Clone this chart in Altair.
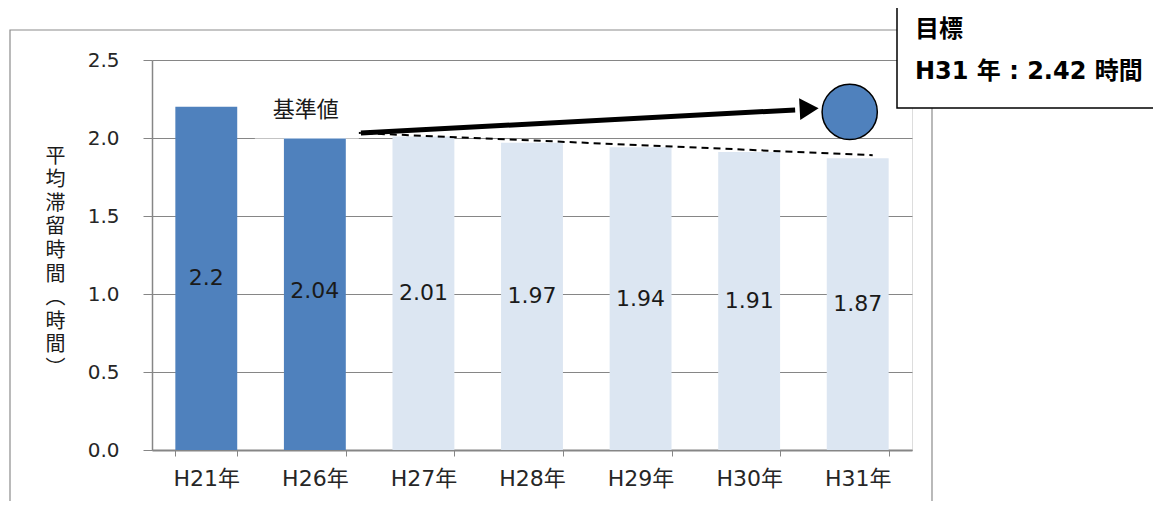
import altair as alt
import pandas as pd

# ---- data ----
years = ["H21年", "H26年", "H27年", "H28年", "H29年", "H30年", "H31年"]
values = [2.2, 2.04, 2.01, 1.97, 1.94, 1.91, 1.87]
value_labels = ["2.2", "2.04", "2.01", "1.97", "1.94", "1.91", "1.87"]
kinds = ["実績", "実績", "推計", "推計", "推計", "推計", "推計"]

trend_years = ["H26年", "H31年"]
trend_values = [2.04, 1.89]

arrow_years = ["H26年", "H30年"]
arrow_values = [2.032, 2.18]
arrow_head_year = ["H30年"]
arrow_head_value = [2.188]

target_year = ["H31年"]
target_marker = [2.167]

base_year = ["H26年"]
base_label = ["基準値"]
base_box = [1.997, 2.32]
base_label_value = [2.18]

target_lines = ["目標", "H31 年 : 2.42 時間"]
y_title = ["平", "均", "滞", "留", "時", "間", "︵", "時", "間", "︶"]

FONT = "DejaVu Sans, Noto Sans CJK JP"
CJK = "Noto Sans CJK JP"
DARK = "#4f81bd"
LIGHT = "#dce6f2"
GRID = "#868686"

bars_df = pd.DataFrame({"year": years, "value": values, "label": value_labels, "kind": kinds})
bars_df["mid"] = bars_df["value"] / 2

x_enc = alt.X("year:N", sort=years,
              scale=alt.Scale(paddingInner=0.43, paddingOuter=0.215),
              axis=alt.Axis(title=None, tickBand="extent", tickSize=6, labelPadding=12,
                            labelFontSize=22, labelColor="#262626", labelFont=FONT,
                            domainColor=GRID, domainWidth=2, tickColor=GRID, labelAngle=0))
y_scale = alt.Scale(domain=[0, 2.5], nice=False)

bars = alt.Chart(bars_df).mark_bar().encode(
    x=x_enc,
    y=alt.Y("value:Q", scale=y_scale,
            axis=alt.Axis(values=[0, 0.5, 1.0, 1.5, 2.0, 2.5], format=".1f",
                          grid=True, gridColor=GRID, tickColor=GRID, domainColor=GRID,
                          domainWidth=1.5, tickSize=9, labelPadding=24, labelFontSize=20,
                          labelColor="#262626", labelFont=FONT,
                          title=y_title, titleAngle=0, titleX=-97, titleY=86,
                          titleAlign="center", titleBaseline="top", titleLineHeight=23.6,
                          titleFontSize=20, titleFontWeight="normal", titleFont=CJK,
                          titleColor="#1a1a1a")),
    color=alt.Color("kind:N", scale=alt.Scale(domain=["実績", "推計"], range=[DARK, LIGHT]),
                    legend=None),
)

bar_text = alt.Chart(bars_df).mark_text(fontSize=22, font=FONT, color="#1a1a1a").encode(
    x=alt.X("year:N", sort=years), y=alt.Y("mid:Q", scale=y_scale), text="label:N"
)

trend = alt.Chart(pd.DataFrame({"year": trend_years, "value": trend_values})).mark_line(
    color="black", strokeDash=[7, 5], strokeWidth=2, xOffset=15
).encode(x=alt.X("year:N", sort=years), y=alt.Y("value:Q", scale=y_scale))

box = alt.Chart(pd.DataFrame({"year": base_year, "lo": [base_box[0]], "hi": [base_box[1]]})).mark_bar(
    color="white", width=104, xOffset=-8
).encode(x=alt.X("year:N", sort=years), y=alt.Y("lo:Q", scale=y_scale), y2="hi:Q")

box_text = alt.Chart(pd.DataFrame({"year": base_year, "value": base_label_value, "t": base_label})).mark_text(
    fontSize=22, font=CJK, color="#1a1a1a", xOffset=-9
).encode(x=alt.X("year:N", sort=years), y=alt.Y("value:Q", scale=y_scale), text="t:N")

arrow = alt.Chart(pd.DataFrame({"year": arrow_years, "value": arrow_values})).mark_line(
    color="black", strokeWidth=5, xOffset=46
).encode(x=alt.X("year:N", sort=years), y=alt.Y("value:Q", scale=y_scale))

arrow_head = alt.Chart(pd.DataFrame({"year": arrow_head_year, "value": arrow_head_value})).mark_point(
    shape="triangle-right", filled=True, color="black", size=480, xOffset=60, angle=357, opacity=1
).encode(x=alt.X("year:N", sort=years), y=alt.Y("value:Q", scale=y_scale))

circle = alt.Chart(pd.DataFrame({"year": target_year, "value": target_marker})).mark_point(
    shape="circle", filled=True, fill=DARK, stroke="black", strokeWidth=1.5, size=3050,
    xOffset=-8, opacity=1
).encode(x=alt.X("year:N", sort=years), y=alt.Y("value:Q", scale=y_scale))

one = alt.Data(values=[{}])
frame = alt.Chart(one).mark_rect(fill="transparent", stroke="#8c8c8c", strokeWidth=1.2).encode(
    x=alt.value(-142), x2=alt.value(780), y=alt.value(-30), y2=alt.value(460)
)
target_box = alt.Chart(one).mark_rect(fill="white", stroke="black", strokeWidth=1.5).encode(
    x=alt.value(745), x2=alt.value(1030), y=alt.value(-55), y2=alt.value(48)
)
target_text = alt.Chart(one).mark_text(
    align="left", baseline="middle", fontSize=24, fontWeight="bold", font=FONT,
    color="black", lineHeight=42
).encode(x=alt.value(763), y=alt.value(-30), text=alt.value(target_lines))

chart = alt.layer(
    frame, bars, bar_text, trend, box, box_text, arrow, arrow_head, circle, target_box, target_text
).properties(
    width=760, height=390,
    autosize=alt.AutoSizeParams(type="none"),
    padding={"left": 144, "top": 52, "right": 241, "bottom": 51},
).configure_view(stroke="transparent").configure(background="white")

chart.save("out.html", embed_options={"renderer": "svg", "actions": False})
